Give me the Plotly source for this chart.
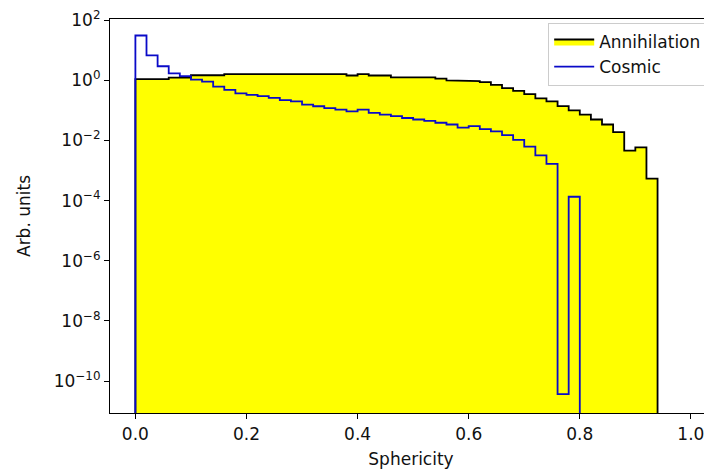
import numpy as np
import plotly.graph_objects as go

# ---- data ----
bin_width = 0.02
annihilation = [1.10, 1.10, 1.10, 1.23, 1.23, 1.48, 1.48, 1.48,
                1.62, 1.62, 1.62, 1.62, 1.62, 1.62, 1.62, 1.62, 1.62, 1.62, 1.62,
                1.45, 1.62, 1.45, 1.45, 1.26, 1.26, 1.26, 1.26, 1.15, 1.0, 1.0,
                0.95, 0.87, 0.71, 0.55, 0.45, 0.35, 0.25, 0.20, 0.14, 0.10,
                0.072, 0.050, 0.034, 0.019, 0.0046, 0.0059, 0.00054]
cosmic = [31.0, 6.8, 2.95, 1.70, 1.38, 1.05, 0.91, 0.62, 0.48, 0.37,
          0.33, 0.30, 0.26, 0.22, 0.20, 0.155, 0.138, 0.12, 0.107, 0.093,
          0.107, 0.083, 0.072, 0.065, 0.056, 0.050, 0.045, 0.039, 0.034, 0.027,
          0.030, 0.024, 0.020, 0.015, 0.0105, 0.0063, 0.0032, 0.00166, 3.7e-11, 1.35e-4]
x_ticks = [0.0, 0.2, 0.4, 0.6, 0.8, 1.0]
x_tick_labels = ["0.0", "0.2", "0.4", "0.6", "0.8", "1.0"]
y_tick_exponents = [-10, -8, -6, -4, -2, 0, 2]
FLOOR = 1e-14  # baseline of the step histograms (below visible range)

FONT = "DejaVu Sans"
FS = 17


def step_outline(values):
    v = np.asarray(values, dtype=float)
    edges = np.arange(len(v) + 1) * bin_width
    xs = np.repeat(edges, 2)
    ys = np.concatenate([[FLOOR], np.repeat(v, 2), [FLOOR]])
    return xs, ys


fig = go.Figure()

ax, ay = step_outline(annihilation)
fig.add_trace(go.Scatter(
    x=ax, y=ay, mode="lines", name="Annihilation",
    fill="toself", fillcolor="#ffff00",
    line=dict(color="black", width=1.8),
))

cx, cy = step_outline(cosmic)
fig.add_trace(go.Scatter(
    x=cx, y=cy, mode="lines", name="Cosmic",
    line=dict(color="#0a0ac8", width=1.8),
))

y_tick_vals = [10.0 ** e for e in y_tick_exponents]
y_tick_text = ["10<sup>%s</sup>" % (str(e).replace("-", "−")) for e in y_tick_exponents]

# the page body adds an 8px margin, so the figure is sized to fill the 712x473 window
fig.update_layout(
    width=704, height=465,
    margin=dict(l=102, r=0, t=7, b=60),
    paper_bgcolor="white", plot_bgcolor="white",
    font=dict(family=FONT, size=FS, color="#111111"),
    showlegend=True,
    legend=dict(
        x=0.992, xanchor="right", y=0.99, yanchor="top",
        bordercolor="#cccccc", borderwidth=1,
        bgcolor="rgba(255,255,255,0.85)",
        font=dict(family=FONT, size=FS, color="#111111"),
        itemwidth=40,
    ),
    xaxis=dict(
        range=[-0.0457, 1.038],
        tickvals=x_ticks, ticktext=x_tick_labels,
        ticks="outside", ticklen=5, tickwidth=1.2, tickcolor="black",
        showline=True, linecolor="black", linewidth=1.2, mirror=True,
        showgrid=False, zeroline=False,
        title=dict(text="Sphericity", standoff=10, font=dict(size=FS)),
        tickfont=dict(size=FS),
        ticklabeloverflow="allow",
    ),
    yaxis=dict(
        type="log", range=[-11.06, 2.04],
        tickvals=y_tick_vals, ticktext=y_tick_text,
        ticks="outside", ticklen=5, tickwidth=1.2, tickcolor="black",
        showline=True, linecolor="black", linewidth=1.2, mirror=False,
        showgrid=False, zeroline=False,
        title=dict(text="Arb. units", standoff=18, font=dict(size=FS)),
        tickfont=dict(size=FS),
        ticklabeloverflow="allow",
    ),
)

fig.write_html("out.html")
